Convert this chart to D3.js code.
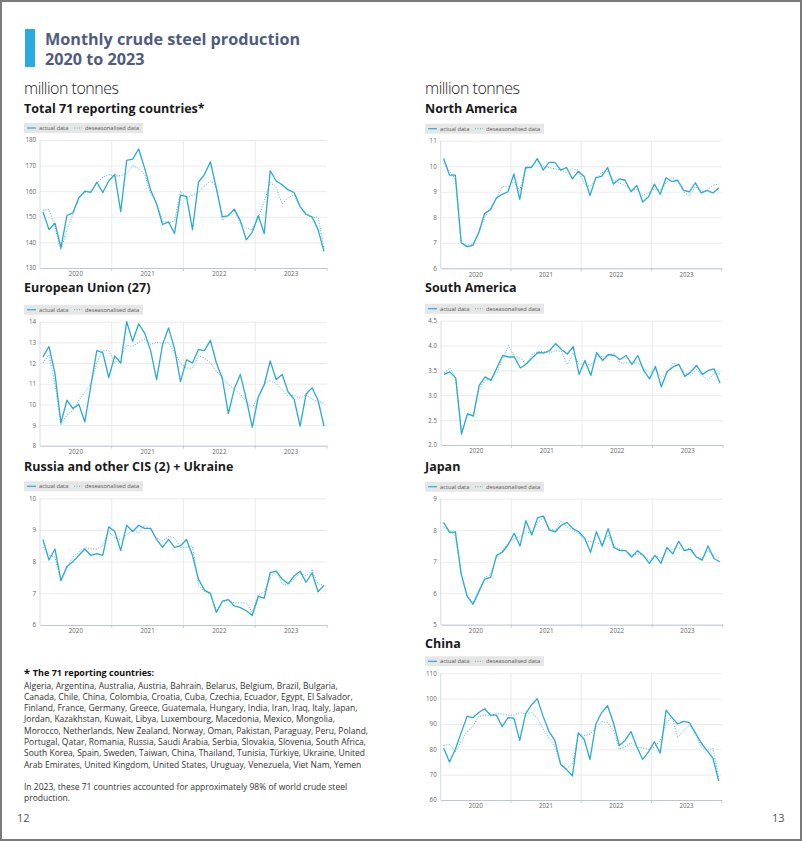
<!DOCTYPE html>
<html><head><meta charset="utf-8">
<script src="https://cdn.jsdelivr.net/npm/d3@7"></script>
<style>
body{margin:0;background:#fff;font-family:"Open Sans",sans-serif;}
svg{display:block;}
</style></head>
<body><svg id="c" width="802" height="842"></svg>
<script>
const years = ["2020","2021","2022","2023"];
const months = d3.range(48);

const totalActual = [152,145,147.5,138,150.5,151.5,157.5,160,159.5,163.5,159.5,164,166.5,152,172,172.5,176.5,169,160.5,155,147,148,143.5,158.5,158,145,163.5,166.5,171.5,161,150,150.5,153,148.5,141,144,150.5,143.5,168,164,162.5,160.5,159.5,154,151,150,145,136.5];
const totalDeseas = [152.5,153,146,137,145,151,157,159.5,160,163,165.5,166.5,166,166,167,170,169,166.5,159,155.5,148.5,147.5,148.5,160,157.5,158.5,159.5,162,164,162,148.5,150.5,152.5,147.5,145.5,145,149.5,156,163.5,161.5,155,157.5,158.5,154,151,149.5,150,137.5];

const euActual = [12.3,12.8,11.5,9.1,10.2,9.8,10.0,9.15,10.9,12.6,12.5,11.3,12.35,12.0,14.0,13.05,13.9,13.45,12.6,11.2,12.9,13.7,12.7,11.1,12.15,12.0,12.65,12.6,13.1,12.0,11.25,9.55,10.75,11.45,10.25,8.9,10.35,10.95,12.1,11.2,11.45,10.6,10.25,8.95,10.5,10.8,10.2,8.95];
const euDeseas = [12.0,12.4,11.0,9.0,9.5,9.7,10.2,10.6,11.0,12.0,12.6,12.6,12.0,12.3,12.85,12.8,13.0,13.15,12.9,13.0,12.95,13.0,12.5,12.0,11.75,11.75,12.35,12.25,12.0,11.6,11.3,10.95,10.75,10.5,10.1,9.85,10.35,11.0,11.15,11.0,10.7,10.4,10.45,10.3,10.45,10.25,10.15,10.05];

const cisActual = [8.7,8.05,8.4,7.4,7.85,8.0,8.2,8.4,8.2,8.25,8.2,9.1,8.95,8.35,9.15,8.95,9.15,9.05,9.05,8.7,8.45,8.7,8.45,8.5,8.7,8.2,7.45,7.1,7.0,6.4,6.75,6.8,6.6,6.55,6.45,6.3,6.9,6.85,7.65,7.7,7.45,7.3,7.55,7.7,7.35,7.65,7.05,7.25];
const cisDeseas = [8.45,8.2,8.15,7.4,7.8,8.15,8.3,8.45,8.4,8.4,8.5,8.95,8.75,8.7,8.85,9.0,8.9,9.15,9.0,8.75,8.65,8.8,8.75,8.45,8.45,8.5,7.25,7.05,6.95,6.45,6.7,6.8,6.7,6.7,6.7,6.4,6.95,7.05,7.5,7.7,7.3,7.25,7.45,7.65,7.55,7.75,7.3,7.25];

const naActual = [10.3,9.65,9.65,7.0,6.85,6.9,7.4,8.15,8.3,8.75,8.9,9.0,9.7,8.7,9.95,9.95,10.3,9.85,10.15,10.15,9.85,9.95,9.5,9.8,9.6,8.85,9.55,9.6,9.95,9.3,9.5,9.45,9.0,9.25,8.6,8.8,9.3,8.9,9.55,9.4,9.45,9.05,9.0,9.35,8.95,9.05,8.95,9.15];
const naDeseas = [10.1,9.8,9.5,7.0,6.9,6.95,7.35,8.0,8.35,8.75,9.2,9.2,9.4,9.05,9.9,10.0,10.2,10.0,9.95,9.9,9.85,9.75,9.9,9.85,9.3,9.2,9.5,9.75,9.8,9.45,9.35,9.25,9.1,9.1,8.85,8.95,9.1,9.05,9.35,9.55,9.4,9.0,8.85,9.2,9.0,9.05,9.25,9.3];

const saActual = [3.42,3.47,3.35,2.22,2.63,2.58,3.2,3.37,3.3,3.55,3.8,3.77,3.77,3.55,3.63,3.75,3.86,3.85,3.9,4.04,3.92,3.83,3.98,3.42,3.7,3.4,3.86,3.7,3.82,3.8,3.72,3.8,3.62,3.8,3.5,3.33,3.58,3.17,3.48,3.57,3.62,3.38,3.47,3.6,3.42,3.5,3.53,3.24];
const saDeseas = [3.45,3.55,3.35,2.25,2.6,2.6,3.15,3.3,3.33,3.45,3.75,4.0,3.78,3.75,3.62,3.82,3.88,3.88,3.85,3.9,3.88,3.62,3.85,3.62,3.65,3.6,3.78,3.78,3.8,3.85,3.65,3.65,3.65,3.65,3.55,3.45,3.52,3.35,3.45,3.65,3.6,3.45,3.4,3.52,3.4,3.3,3.45,3.43];

const jpActual = [8.25,7.93,7.95,6.6,5.9,5.65,6.05,6.45,6.5,7.2,7.3,7.55,7.9,7.5,8.3,7.85,8.4,8.45,8.0,7.95,8.15,8.25,8.05,7.95,7.75,7.3,7.95,7.5,8.05,7.45,7.35,7.35,7.15,7.35,7.2,6.95,7.2,6.95,7.45,7.25,7.65,7.35,7.4,7.15,7.05,7.5,7.1,7.0];
const jpDeseas = [8.1,8.0,7.8,6.6,5.95,5.7,6.1,6.5,6.6,7.15,7.35,7.6,7.75,7.8,7.95,7.9,8.25,8.4,8.05,8.0,8.3,8.1,8.0,7.9,7.65,7.65,7.6,7.55,7.85,7.5,7.4,7.35,7.2,7.25,7.2,7.05,7.2,7.1,7.3,7.4,7.45,7.35,7.45,7.15,7.1,7.35,7.2,7.1];

const cnActual = [80.5,75,80,86.5,93,92.5,94.5,96,93.5,93.5,89,92.5,92.3,83.5,94,97.5,100,93,87,83.5,74,72,69.5,86.5,84,76,90,94.5,97.2,90.5,81.5,83.5,87,81,76,79,83,78.5,95.5,92.5,90,91,90.5,86.5,82.5,79.5,76.5,67.5];
const cnDeseas = [81.5,82,79,83,87,89,93,93.5,93.5,94,94,93.5,93.5,94.5,94,94.5,92.5,88,84.5,81,74,72.5,74,86,85.5,86,88.5,91,90.5,87.5,80,81,82.5,81,80.5,80,81,83.5,90,93,84.5,87.5,89.5,86,81,79.5,80.5,68.5];

const totalTicks = [130,140,150,160,170,180];
const euTicks = [8,9,10,11,12,13,14];
const cisTicks = [6,7,8,9,10];
const naTicks = [6,7,8,9,10,11];
const saTicks = [2.0,2.5,3.0,3.5,4.0,4.5];
const jpTicks = [5,6,7,8,9];
const cnTicks = [60,70,80,90,100,110];

const legendLabels = ["actual data","deseasonalised data"];

const svg = d3.select("#c");
const BLUE = "#2aa9d6", DOT = "#4fb6da";

// page frame
svg.append("rect").attr("x",1).attr("y",1).attr("width",800).attr("height",839)
  .attr("fill","none").attr("stroke","#7a7a7a").attr("stroke-width",2);

// title
svg.append("rect").attr("x",25).attr("y",29).attr("width",10).attr("height",38).attr("fill","#29abe2");
const tcol = "#4f5c7f";
svg.append("text").attr("x",45).attr("y",45).attr("font-size",16.2).attr("font-weight",700).attr("fill",tcol).text("Monthly crude steel production");
svg.append("text").attr("x",45).attr("y",65).attr("font-size",16.2).attr("font-weight",700).attr("fill",tcol).text("2020 to 2023");

// units
[[24],[425]].forEach(([x])=>{
  svg.append("text").attr("x",x).attr("y",94).attr("font-size",16).attr("font-weight",300).attr("fill","#222").attr("letter-spacing",-0.5).text("million tonnes");
});

const charts = [
  {title:"Total 71 reporting countries*", ty:113, L:40, R:327, T:140, B:268, ticks:totalTicks, fmt:d3.format("d"), a:totalActual, d:totalDeseas},
  {title:"European Union (27)", ty:292, L:40, R:327, T:321.7, B:445.7, ticks:euTicks, fmt:d3.format("d"), a:euActual, d:euDeseas},
  {title:"Russia and other CIS (2) + Ukraine", ty:471, L:40, R:327, T:498.3, B:625, ticks:cisTicks, fmt:d3.format("d"), a:cisActual, d:cisDeseas},
  {title:"North America", ty:113, L:440.7, R:721.7, T:140.7, B:268.3, ticks:naTicks, fmt:d3.format("d"), a:naActual, d:naDeseas},
  {title:"South America", ty:292, L:441, R:723, T:320.7, B:445, ticks:saTicks, fmt:d3.format(".1f"), a:saActual, d:saDeseas},
  {title:"Japan", ty:471, L:440.7, R:722.7, T:498.7, B:624.7, ticks:jpTicks, fmt:d3.format("d"), a:jpActual, d:jpDeseas},
  {title:"China", ty:648, L:440.7, R:721.7, T:673.3, B:800, ticks:cnTicks, fmt:d3.format("d"), a:cnActual, d:cnDeseas},
];

charts.forEach(c=>{
  const tx = c.L < 200 ? 24 : 425;
  svg.append("text").attr("x",tx).attr("y",c.ty).attr("font-size",12.5).attr("font-weight",700).attr("fill","#1a1a1a").text(c.title);

  // legend
  const lg = svg.append("g").attr("transform",`translate(${tx},${c.T-17})`);
  lg.append("rect").attr("width",119).attr("height",10).attr("fill","#e6e6e6");
  lg.append("line").attr("x1",3).attr("x2",12).attr("y1",5).attr("y2",5).attr("stroke",BLUE).attr("stroke-width",1.2);
  lg.append("text").attr("x",15).attr("y",7.2).attr("font-size",5.7).attr("fill","#555").text(legendLabels[0]);
  lg.append("line").attr("x1",50).attr("x2",58).attr("y1",5).attr("y2",5).attr("stroke",DOT).attr("stroke-width",1).attr("stroke-dasharray","1,1.5");
  lg.append("text").attr("x",61).attr("y",7.2).attr("font-size",5.7).attr("fill","#555").text(legendLabels[1]);

  const x = d3.scaleBand().domain(months).range([c.L,c.R]).padding(0);
  const xy = d3.scaleBand().domain(years).range([c.L,c.R]).padding(0);
  const y = d3.scaleLinear().domain(d3.extent(c.ticks)).range([c.B,c.T]);
  const g = svg.append("g");

  // y grid + labels
  const ya = g.append("g").attr("transform",`translate(${c.L},0)`)
    .call(d3.axisLeft(y).tickValues(c.ticks).tickFormat(c.fmt).tickSize(-(c.R-c.L)).tickPadding(4));
  ya.select(".domain").remove();
  ya.selectAll(".tick line").attr("stroke","#e6e6e6").attr("stroke-width",0.8);
  ya.selectAll(".tick text").attr("font-size",6.2).attr("fill","#666").attr("font-family","Open Sans");

  // year separators
  g.selectAll(".ysep").data(years.slice(1)).enter().append("line")
    .attr("x1",d=>xy(d)).attr("x2",d=>xy(d)).attr("y1",c.T).attr("y2",c.B)
    .attr("stroke","#e3e6ea").attr("stroke-width",0.8);

  // left axis line
  g.append("line").attr("x1",c.L).attr("x2",c.L).attr("y1",c.T).attr("y2",c.B).attr("stroke","#ccd3de").attr("stroke-width",0.8);

  // x axis
  const xa = g.append("g").attr("transform",`translate(0,${c.B})`)
    .call(d3.axisBottom(xy).tickSize(0).tickPadding(4));
  xa.select(".domain").attr("stroke","#b9c3d3").attr("stroke-width",0.9);
  xa.selectAll(".tick text").attr("font-size",6.2).attr("fill","#666").attr("font-family","Open Sans");
  g.selectAll(".ytk").data(years.slice(1).concat(["end"])).enter().append("line")
    .attr("x1",d=>d==="end"?c.R:xy(d)).attr("x2",d=>d==="end"?c.R:xy(d))
    .attr("y1",c.B).attr("y2",c.B+3).attr("stroke","#b9c3d3").attr("stroke-width",0.8);

  const line = arr => d3.line().x((v,i)=>x(i)+x.bandwidth()/2).y(v=>y(v))(arr);
  g.append("path").attr("d",line(c.d)).attr("fill","none").attr("stroke",DOT).attr("stroke-width",1).attr("stroke-dasharray","1,1.6");
  g.append("path").attr("d",line(c.a)).attr("fill","none").attr("stroke",BLUE).attr("stroke-width",1.3).attr("stroke-linejoin","round");
});

// footnote
const fn = svg.append("g");
const ft = fn.append("text").attr("x",24).attr("y",676).attr("font-size",9).attr("font-weight",700).attr("fill","#111");
ft.append("tspan").attr("font-size",11).attr("dy",1).text("* ");
ft.append("tspan").attr("dy",-1).text("The 71 reporting countries:");
const countryLines = [
"Algeria, Argentina, Australia, Austria, Bahrain, Belarus, Belgium, Brazil, Bulgaria,",
"Canada, Chile, China, Colombia, Croatia, Cuba, Czechia, Ecuador, Egypt, El Salvador,",
"Finland, France, Germany, Greece, Guatemala, Hungary, India, Iran, Iraq, Italy, Japan,",
"Jordan, Kazakhstan, Kuwait, Libya, Luxembourg, Macedonia, Mexico, Mongolia,",
"Morocco, Netherlands, New Zealand, Norway, Oman, Pakistan, Paraguay, Peru, Poland,",
"Portugal, Qatar, Romania, Russia, Saudi Arabia, Serbia, Slovakia, Slovenia, South Africa,",
"South Korea, Spain, Sweden, Taiwan, China, Thailand, Tunisia, Türkiye, Ukraine, United",
"Arab Emirates, United Kingdom, United States, Uruguay, Venezuela, Viet Nam, Yemen"];
fn.selectAll(".cl").data(countryLines).enter().append("text")
  .attr("x",24).attr("y",(d,i)=>688.5+i*11.3).attr("font-size",8.5).attr("fill","#333").text(d=>d);
["In 2023, these 71 countries accounted for approximately 98% of world crude steel","production."].forEach((t,i)=>{
  fn.append("text").attr("x",24).attr("y",790+i*11.3).attr("font-size",8.5).attr("fill","#333").text(t);
});

svg.append("text").attr("x",17).attr("y",822).attr("font-size",11).attr("fill","#555").text("12");
svg.append("text").attr("x",772).attr("y",822).attr("font-size",11).attr("fill","#555").text("13");
</script></body></html>
